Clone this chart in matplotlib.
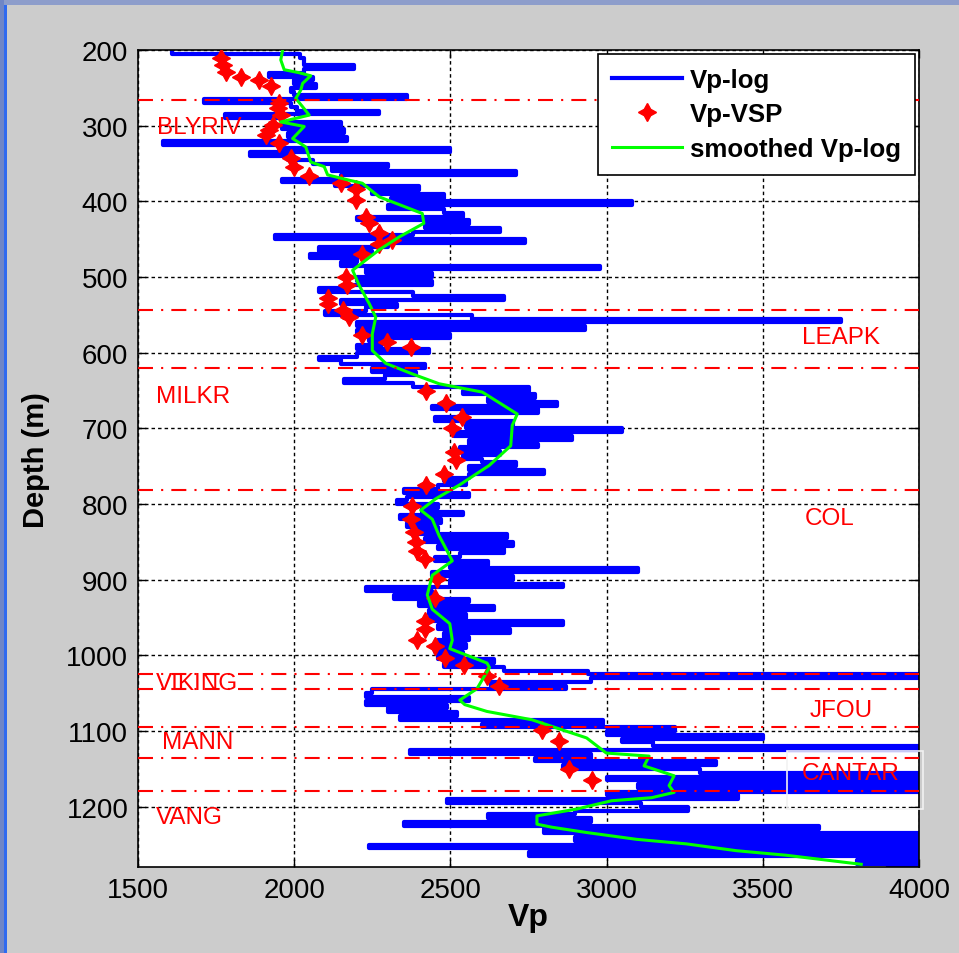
import numpy as np
import matplotlib.pyplot as plt
from matplotlib.patches import Rectangle

plt.rcParams['font.family'] = ['Liberation Sans', 'DejaVu Sans']

# sonic Vp log, one value every 5 m starting at 200 m
vp_log = [
    1610, 2020, 2030, 2030, 2190, 2030, 1920, 2060, 2000, 2070,  # 200
    1990, 2000, 2360, 1710, 1990, 2010, 2270, 1780, 1960, 2150,  # 250
    1960, 2160, 1980, 2170, 1580, 1950, 2500, 1860, 1980, 2060,  # 300
    2300, 2120, 2710, 2150, 1960, 2130, 2400, 2250, 2480, 2310,  # 350
    3080, 2300, 2480, 2540, 2200, 2560, 2420, 2660, 2380, 1940,  # 400
    2740, 2300, 2080, 2250, 2050, 2200, 2150, 2980, 2230, 2440,  # 450
    2200, 2440, 2170, 2080, 2380, 2670, 2150, 2330, 2230, 2100,  # 500
    2570, 3750, 2200, 2930, 2200, 2500, 2240, 2280, 2200, 2430,  # 550
    2200, 2080, 2150, 2420, 2250, 2390, 2290, 2160, 2380, 2750,  # 600
    2540, 2770, 2620, 2840, 2440, 2780, 2540, 2450, 2700, 2550,  # 650
    3050, 2510, 2890, 2560, 2780, 2530, 2660, 2540, 2600, 2710,  # 700
    2560, 2800, 2560, 2480, 2550, 2460, 2350, 2560, 2360, 2330,  # 750
    2460, 2410, 2540, 2340, 2470, 2360, 2460, 2400, 2680, 2420,  # 800
    2700, 2460, 2670, 2530, 2450, 2620, 2500, 3100, 2440, 2700,  # 850
    2500, 2860, 2230, 2440, 2320, 2560, 2400, 2640, 2430, 2550,  # 900
    2430, 2860, 2460, 2690, 2480, 2560, 2460, 2550, 2450, 2540,  # 950
    2460, 2640, 2480, 2670, 2940, 4050, 2950, 2630, 2870, 2250,  # 1000
    2230, 2560, 2230, 2490, 2300, 2520, 2340, 2990, 2600, 3220,  # 1050
    3000, 3500, 3050, 3150, 4050, 2370, 2950, 2770, 3350, 2860,  # 1100
    3300, 4050, 3000, 4050, 3100, 4050, 3000, 3420, 2490, 3110,  # 1150
    3260, 2900, 2620, 2950, 2350, 3680, 2800, 4050, 2900, 4050,  # 1200
    2240, 4050, 2750, 4050, 3800, 4000, 3900,                    # 1250
]
log_top = 200
log_step = 5
depth_log = log_top + log_step * np.arange(len(vp_log))

# VSP interval velocities
vsp_depth = [211, 220, 229, 235, 240, 248, 270, 277, 286, 299, 306, 312, 323,
             343, 354, 367, 376, 383, 398, 420, 429, 442, 451, 456, 469, 500,
             511, 528, 535, 544, 553, 577, 586, 592, 650, 667, 685, 700, 731,
             742, 760, 775, 802, 820, 837, 850, 862, 873, 899, 924, 954, 965,
             980, 988, 1003, 1012, 1027, 1040, 1098, 1113, 1150, 1164]
vsp_vp = [1765, 1771, 1781, 1829, 1888, 1925, 1952, 1947, 1957, 1931, 1920,
          1909, 1952, 1989, 2000, 2048, 2149, 2197, 2197, 2229, 2240, 2272,
          2314, 2272, 2218, 2165, 2170, 2107, 2107, 2155, 2176, 2218, 2298,
          2373, 2421, 2485, 2538, 2506, 2511, 2517, 2480, 2421, 2378, 2373,
          2384, 2389, 2394, 2418, 2458, 2450, 2418, 2418, 2394, 2450, 2482,
          2545, 2617, 2657, 2793, 2849, 2880, 2952]

# smoothed log
smooth_depth = [200, 213, 226, 230, 234, 244, 253, 264, 275, 286, 295, 301,
                317, 328, 348, 354, 365, 372, 376, 394, 416, 429, 447, 464,
                491, 511, 535, 553, 575, 597, 614, 628, 641, 652, 681, 696,
                723, 749, 775, 793, 808, 820, 842, 856, 875, 894, 920, 939,
                958, 980, 991, 1010, 1016, 1044, 1059, 1065, 1074, 1085, 1096,
                1109, 1129, 1133, 1146, 1159, 1172, 1181, 1188, 1192, 1203,
                1212, 1223, 1227, 1234, 1243, 1249, 1258, 1264, 1276]
smooth_vp = [1963, 1957, 1968, 2016, 2053, 2027, 2021, 2005, 2027, 2048, 1957,
             2032, 1995, 2037, 2053, 2096, 2107, 2176, 2218, 2272, 2410, 2415,
             2336, 2272, 2187, 2208, 2240, 2261, 2250, 2250, 2293, 2378, 2464,
             2602, 2714, 2698, 2693, 2624, 2528, 2453, 2405, 2442, 2464, 2482,
             2506, 2442, 2426, 2442, 2498, 2506, 2498, 2617, 2625, 2585, 2530,
             2546, 2617, 2761, 2841, 2936, 2999, 3136, 3120, 3216, 3200, 3216,
             3144, 3016, 2904, 2777, 2777, 2825, 2936, 3096, 3255, 3415, 3574,
             3815]

# formation tops (m)
top_depths = [266, 543, 620, 782, 1025, 1044, 1095, 1136, 1179]

formation_names = ['BLYRIV', 'LEAPK', 'MILKR', 'COL', 'VIKING', 'JFOU',
                   'MANN', 'CANTAR', 'VANG']
label_vp = [1562, 3627, 1558, 3633, 1556, 3650, 1578, 3624, 1556]
label_depth = [302, 579, 657, 818, 1037, 1072, 1114, 1155, 1213]

fig = plt.figure(figsize=(9.59, 9.54), dpi=100, facecolor='#cccccc')
ax = fig.add_axes([0.1439, 0.0898, 0.8144, 0.8567])

# window chrome strips
fig.add_artist(Rectangle((0, 1 - 6 / 954), 1, 6 / 954, transform=fig.transFigure,
                         facecolor='#8d9dcb', edgecolor='none'))
fig.add_artist(Rectangle((0, 0), 4 / 959, 1, transform=fig.transFigure,
                         facecolor='#6f86c6', edgecolor='none'))
fig.add_artist(Rectangle((4 / 959, 0), 3 / 959, 1 - 6 / 954, transform=fig.transFigure,
                         facecolor='#2f6af0', edgecolor='none'))

ax.plot(vp_log, depth_log, color='#0000ff', lw=3, drawstyle='steps-pre',
        label='Vp-log', zorder=2)
ax.plot(vsp_vp, vsp_depth, linestyle='none', marker=(4, 1, 0), ms=13,
        color='#ff0000', mec='#ff0000', label='Vp-VSP', zorder=3)
ax.plot(smooth_vp, smooth_depth, color='#00ff00', lw=2.2,
        label='smoothed Vp-log', zorder=4)

for d in top_depths:
    ax.axhline(d, color='#ff0000', lw=1.5, dashes=(7.2, 3.9, 1, 3.9), zorder=5)

for name, v, d in zip(formation_names, label_vp, label_depth):
    ax.text(v, d, name, color='#ff0000', fontsize=17.5, ha='left',
            va='center', zorder=6)

# light frame left around the CANTAR label
ax.add_patch(Rectangle((3577, 1126), 435, 77, facecolor='none',
                       edgecolor='#f2f2f2', lw=1.2, clip_on=False, zorder=6))

ax.set_xlim(1500, 4000)
ax.set_ylim(1280, 200)
ax.set_xticks(np.arange(1500, 4001, 500))
ax.set_yticks(np.arange(200, 1201, 100))
ax.grid(True, color='black', lw=1, dashes=(2.5, 2.2))
ax.set_axisbelow(True)
ax.tick_params(direction='in', length=6, width=1, top=True, right=True,
               labelsize=20, pad=7)
for s in ax.spines.values():
    s.set_linewidth(1.2)

ax.set_xlabel('Vp', fontsize=23, fontweight='bold')
ax.set_ylabel('Depth (m)', fontsize=21, fontweight='bold')
ax.xaxis.set_label_coords(0.5, -0.043)
ax.yaxis.set_label_coords(-0.113, 0.5)

leg = ax.legend(loc='upper right', prop={'weight': 'bold', 'size': 18.6},
                fancybox=False, framealpha=1, edgecolor='black',
                handlelength=2.7, handletextpad=0.3, labelspacing=0.4,
                borderaxespad=0.15, borderpad=0.55, numpoints=1)
leg.get_frame().set_linewidth(1.2)
leg.set_zorder(10)

fig.savefig('out.png', dpi=100, facecolor=fig.get_facecolor())
